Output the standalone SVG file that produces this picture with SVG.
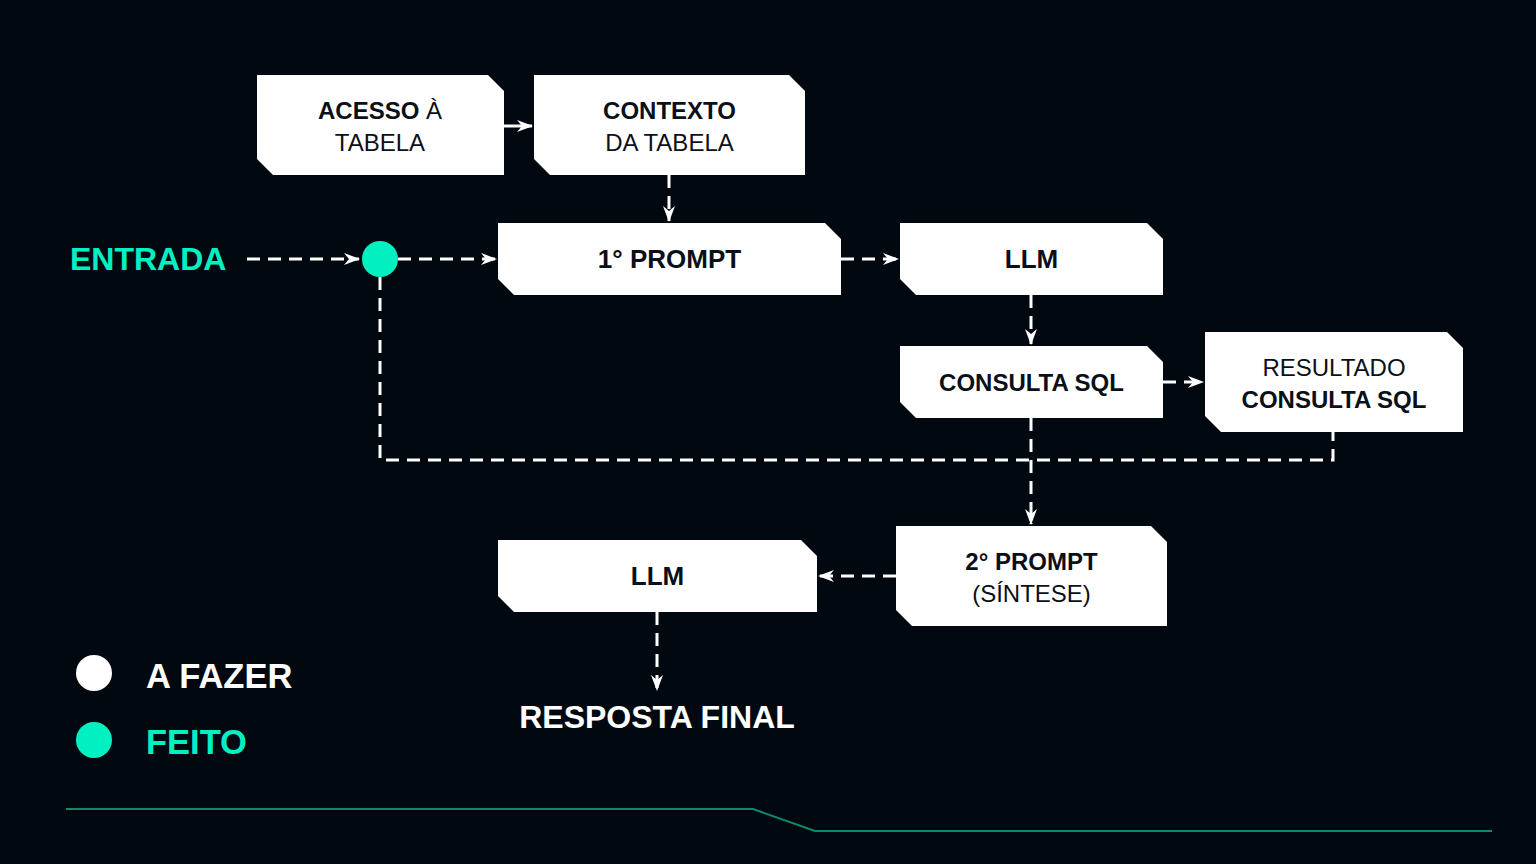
<svg xmlns="http://www.w3.org/2000/svg" width="1536" height="864" viewBox="0 0 1536 864">
<style>
.node{fill:#ffffff}
.t{font-family:"Liberation Sans",Arial,sans-serif;fill:#0b0f17;text-anchor:middle}
.b{font-weight:bold}
.r{font-weight:normal}
.dash{fill:none;stroke:#ffffff;stroke-width:3;stroke-dasharray:13 8}
.solid{fill:none;stroke:#ffffff;stroke-width:3}
.lab{font-family:"Liberation Sans",Arial,sans-serif;font-weight:bold}
</style>
<defs>
<marker id="ah" viewBox="0 0 16 12" refX="15" refY="6" markerWidth="16" markerHeight="12" markerUnits="userSpaceOnUse" orient="auto">
<path d="M0,0 L16,6 L0,12 L5,6 Z" fill="#ffffff"/>
</marker>
</defs>
<rect width="1536" height="864" fill="#02080f"/>

<g id="connectors">
<path class="solid" d="M504,126 L532,126" marker-end="url(#ah)"/>
<path class="dash" d="M669,175 L669,221" marker-end="url(#ah)"/>
<path class="dash" d="M247,259 L359,259" marker-end="url(#ah)"/>
<path class="dash" d="M398,259 L496,259" marker-end="url(#ah)"/>
<path class="dash" d="M841,259 L898,259" marker-end="url(#ah)"/>
<path class="dash" d="M1031,295 L1031,344" marker-end="url(#ah)"/>
<path class="dash" d="M1163,382 L1203,382" marker-end="url(#ah)"/>
<path class="dash" d="M380,277 L380,460 L1333,460 L1333,432"/>
<path class="dash" d="M1031,418 L1031,524" marker-end="url(#ah)"/>
<path class="dash" d="M896,576 L819,576" marker-end="url(#ah)"/>
<path class="dash" d="M657,612 L657,690" marker-end="url(#ah)"/>
</g>

<g id="n-acesso">
<polygon class="node" points="257,75 488,75 504,91 504,175 273,175 257,159"/>
<text class="t" x="380" y="119" font-size="24"><tspan class="b">ACESSO</tspan><tspan class="r"> À</tspan></text>
<text class="t r" x="380" y="151" font-size="24">TABELA</text>
</g>
<g id="n-contexto">
<polygon class="node" points="534,75 789,75 805,91 805,175 550,175 534,159"/>
<text class="t b" x="669.5" y="119" font-size="24">CONTEXTO</text>
<text class="t r" x="669.5" y="151" font-size="24">DA TABELA</text>
</g>
<g id="n-prompt1">
<polygon class="node" points="498,223 825,223 841,239 841,295 514,295 498,279"/>
<text class="t b" x="669.5" y="268" font-size="26">1° PROMPT</text>
</g>
<g id="n-llm1">
<polygon class="node" points="900,223 1147,223 1163,239 1163,295 916,295 900,279"/>
<text class="t b" x="1031.5" y="268" font-size="26">LLM</text>
</g>
<g id="n-consulta">
<polygon class="node" points="900,346 1147,346 1163,362 1163,418 916,418 900,402"/>
<text class="t b" x="1031.5" y="391" font-size="24">CONSULTA SQL</text>
</g>
<g id="n-resultado">
<polygon class="node" points="1205,332 1447,332 1463,348 1463,432 1221,432 1205,416"/>
<text class="t r" x="1334" y="376" font-size="24">RESULTADO</text>
<text class="t b" x="1334" y="408" font-size="24">CONSULTA SQL</text>
</g>
<g id="n-prompt2">
<polygon class="node" points="896,526 1151,526 1167,542 1167,626 912,626 896,610"/>
<text class="t b" x="1031.5" y="570" font-size="24">2° PROMPT</text>
<text class="t r" x="1031.5" y="602" font-size="24">(SÍNTESE)</text>
</g>
<g id="n-llm2">
<polygon class="node" points="498,540 801,540 817,556 817,612 514,612 498,596"/>
<text class="t b" x="657.5" y="585" font-size="26">LLM</text>
</g>
<g id="n-entrada">
<text class="lab" x="70" y="270" font-size="32" fill="#00f0c2">ENTRADA</text>
<circle cx="380" cy="259" r="18" fill="#00f0c2"/>
</g>
<g id="n-resposta">
<text class="lab" x="657" y="728" font-size="32" fill="#ffffff" text-anchor="middle">RESPOSTA FINAL</text>
</g>
<g id="legend">
<circle cx="94" cy="673" r="18" fill="#ffffff"/>
<text class="lab" x="146" y="688" font-size="34.5" fill="#ffffff">A FAZER</text>
<circle cx="94" cy="740" r="18" fill="#00f0c2"/>
<text class="lab" x="146" y="754" font-size="34.5" fill="#00f0c2">FEITO</text>
</g>
<path d="M66,809 L753,809 L815,831 L1492,831" fill="none" stroke="#0b8a6c" stroke-width="2"/>
</svg>
